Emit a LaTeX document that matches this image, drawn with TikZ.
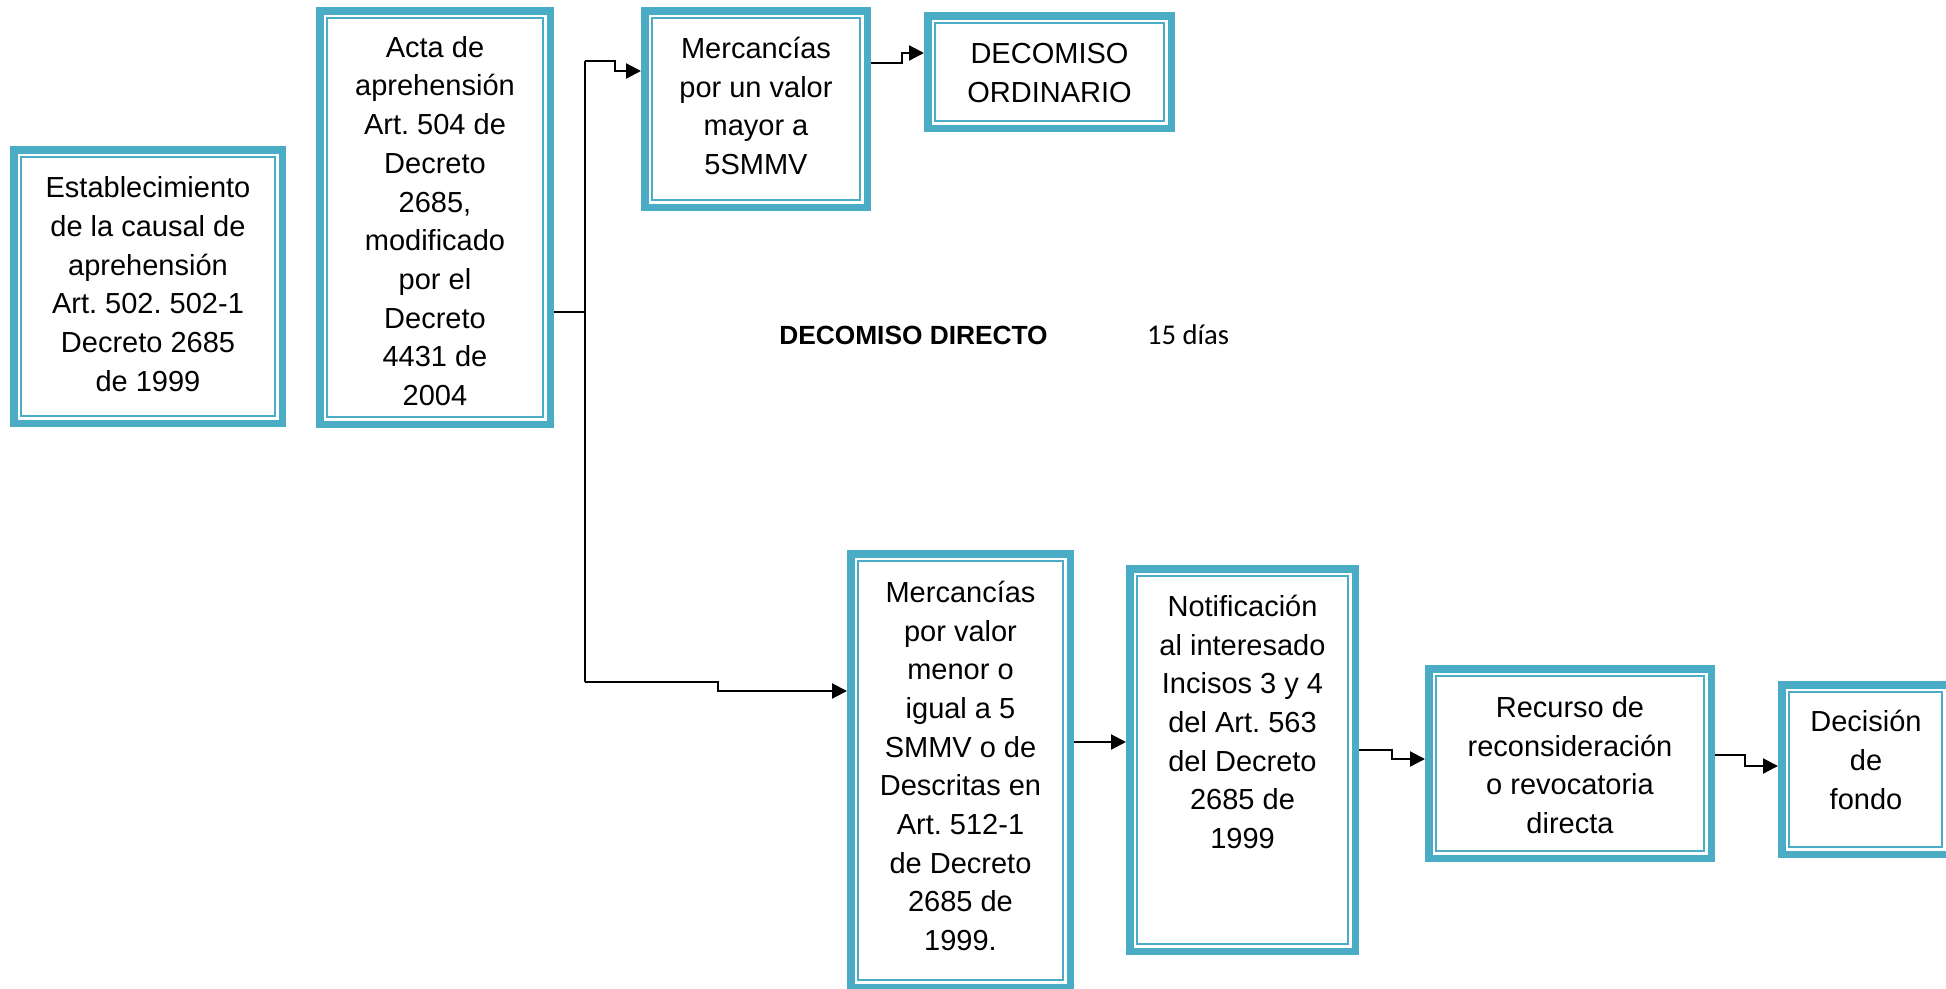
\documentclass[tikz,border=0pt]{standalone}
\usepackage{fontspec}
\setmainfont{Liberation Sans}
\newfontfamily\calfont{Carlito}
\usetikzlibrary{arrows.meta}
\definecolor{acc}{RGB}{75,172,198}
\frenchspacing
\begin{document}
\begin{tikzpicture}[x=1pt,y=-1pt,
  dbox/.style={draw=acc, line width=7.5pt, inner sep=0pt, outer sep=3.75pt, fill=white},
  thinb/.style={draw=acc, line width=2.2pt},
  txt/.style={align=center, font=\frenchspacing\fontsize{29}{38.7}\selectfont, inner sep=0pt},
  conn/.style={draw=black, line width=2.2pt},
  arr/.style={conn, -{Triangle[length=15pt,width=15pt]}},
]
\useasboundingbox (0,0) rectangle (1946,988);
% boxes: center = outer center, size = outer size - 7.5
\node[dbox, minimum width=268.5pt, minimum height=273.5pt] (b1) at (148,286.5) {};
\node[dbox, minimum width=230.5pt, minimum height=413.5pt] (b2) at (435,217.5) {};
\node[dbox, minimum width=222.5pt, minimum height=196.5pt] (b3) at (756,109) {};
\node[dbox, minimum width=243.5pt, minimum height=112.5pt] (b4) at (1049.5,72) {};
\node[dbox, minimum width=219.5pt, minimum height=433.5pt] (b5) at (960.5,770.5) {};
\node[dbox, minimum width=225.5pt, minimum height=382.5pt] (b6) at (1242.5,760) {};
\node[dbox, minimum width=282.5pt, minimum height=189.5pt] (b7) at (1570,763.5) {};
\node[dbox, minimum width=167.5pt, minimum height=169.5pt] (b8) at (1865.5,769.5) {};
\foreach \n in {b1,b2,b3,b4,b5,b6,b7,b8}
  \draw[thinb] ([shift={(11.2pt,-11.2pt)}]\n.north west) rectangle ([shift={(-11.2pt,11.2pt)}]\n.south east);
% texts
\node[txt] (t1) at (148,284) {Establecimiento\\de la causal de\\aprehensión\\Art. 502. 502-1\\Decreto 2685\\de 1999};
\node[txt] (t2) at (435,221) {Acta de\\aprehensión\\Art. 504 de\\Decreto\\2685,\\modificado\\por el\\Decreto\\4431 de\\2004};
\node[txt] (t3) at (756,106) {Mercancías\\por un valor\\mayor a\\5SMMV};
\node[txt] (t4) at (1049.5,73) {DECOMISO\\ORDINARIO};
\node[txt] (t5) at (960.5,766) {Mercancías\\por valor\\menor o\\igual a 5\\SMMV o de\\Descritas en\\Art. 512-1\\de Decreto\\2685 de\\1999.};
\node[txt] (t6) at (1242.5,722) {Notificación\\al interesado\\Incisos 3 y 4\\del Art. 563\\del Decreto\\2685 de\\1999};
\node[txt] (t7) at (1570,765) {Recurso de\\reconsideración\\o revocatoria\\directa};
\node[txt] (t8) at (1866,760) {Decisión\\de\\fondo};
\node[font=\fontsize{26.3}{30}\selectfont\bfseries, inner sep=0pt] (dd) at (913.5,335) {DECOMISO DIRECTO};
\node[font=\calfont\fontsize{28.6}{32}\selectfont, inner sep=0pt] (dias) at (1188,335) {15 días};
% connectors
\coordinate (j0) at (585,312);
\coordinate (jt) at (585,61);
\coordinate (jb) at (585,682);
\draw[conn] (b2.east |- j0) -- (j0);
\draw[conn] (jt) -- (jb);
\draw[arr] (jt) -- (615,61) -- (615,71) -- (b3.west |- 0,71);
\draw[arr] (jb) -- (718,682) -- (718,691) -- (b5.west |- 0,691);
\draw[arr] (b3.east |- 0,63) -- (902,63) -- (902,53) -- (b4.west |- 0,53);
\draw[arr] (b5.east |- 0,742) -- (b6.west |- 0,742);
\draw[arr] (b6.east |- 0,750) -- (1392,750) -- (1392,759) -- (b7.west |- 0,759);
\draw[arr] (b7.east |- 0,755) -- (1745,755) -- (1745,766) -- (b8.west |- 0,766);
\end{tikzpicture}
\end{document}
